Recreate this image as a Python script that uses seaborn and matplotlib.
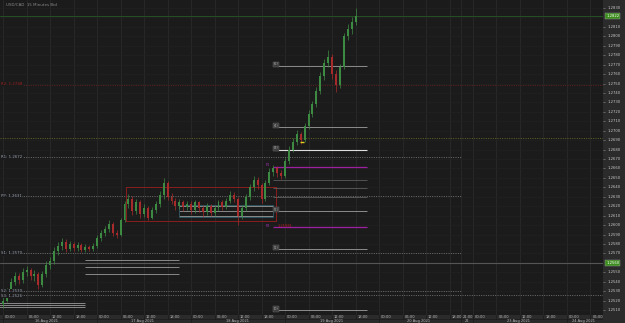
import numpy as np
import pandas as pd
import matplotlib
matplotlib.use("Agg")
import matplotlib.pyplot as plt
import seaborn as sns
from matplotlib.patches import Rectangle

# ---------------- data ----------------
TITLE = "USD/CAD  15 Minutes Bid"
bar_hour = list(range(-1, 91))          # hourly bar index since 16 Aug 2021 00:00
first_open = 1.2512
close = [1.2516, 1.2520, 1.2530, 1.2540, 1.2546, 1.2542, 1.2550, 1.2552, 1.2546, 1.2548,
         1.2536, 1.2548, 1.2558, 1.2562, 1.2572, 1.2578, 1.2582, 1.2575, 1.2580, 1.2576,
         1.2579, 1.2574, 1.2577, 1.2575, 1.2578, 1.2586, 1.2592, 1.2596, 1.2601, 1.2592,
         1.2590, 1.2605, 1.2622, 1.2628, 1.2615, 1.2624, 1.2612, 1.2618, 1.2608, 1.2616,
         1.2622, 1.2632, 1.2645, 1.2630, 1.2626, 1.2620, 1.2624, 1.2619, 1.2622, 1.2616,
         1.2624, 1.2618, 1.2614, 1.2620, 1.2613, 1.2618, 1.2624, 1.2619, 1.2626, 1.2632,
         1.2628, 1.2610, 1.2618, 1.2630, 1.2640, 1.2648, 1.2642, 1.2628, 1.2645, 1.2656,
         1.2660, 1.2655, 1.2652, 1.2668, 1.2680, 1.2688, 1.2697, 1.2690, 1.2705, 1.2718,
         1.2728, 1.2742, 1.2758, 1.2772, 1.2778, 1.2760, 1.2748, 1.2768, 1.2800, 1.2808,
         1.2815, 1.2822]
high = [1.2519, 1.2524, 1.2533, 1.2544, 1.2550, 1.2549, 1.2554, 1.2557, 1.2555, 1.2552,
        1.2550, 1.2551, 1.2562, 1.2566, 1.2577, 1.2582, 1.2586, 1.2585, 1.2583, 1.2582,
        1.2582, 1.2581, 1.2580, 1.2579, 1.2581, 1.2589, 1.2595, 1.2599, 1.2605, 1.2603,
        1.2595, 1.2608, 1.2626, 1.2633, 1.2631, 1.2628, 1.2627, 1.2622, 1.2620, 1.2619,
        1.2626, 1.2636, 1.2650, 1.2647, 1.2634, 1.2629, 1.2628, 1.2627, 1.2626, 1.2625,
        1.2627, 1.2626, 1.2621, 1.2623, 1.2622, 1.2621, 1.2627, 1.2627, 1.2629, 1.2636,
        1.2635, 1.2630, 1.2621, 1.2633, 1.2644, 1.2652, 1.2651, 1.2645, 1.2648, 1.2660,
        1.2664, 1.2663, 1.2658, 1.2671, 1.2684, 1.2692, 1.2701, 1.2699, 1.2708, 1.2722,
        1.2732, 1.2746, 1.2762, 1.2776, 1.2786, 1.2781, 1.2764, 1.2771, 1.2804, 1.2813,
        1.2820, 1.2830]
low = [1.2508, 1.2512, 1.2518, 1.2527, 1.2537, 1.2538, 1.2539, 1.2546, 1.2542, 1.2541,
       1.2532, 1.2534, 1.2545, 1.2553, 1.2559, 1.2568, 1.2574, 1.2571, 1.2572, 1.2573,
       1.2573, 1.2571, 1.2571, 1.2572, 1.2573, 1.2576, 1.2583, 1.2588, 1.2593, 1.2588,
       1.2586, 1.2588, 1.2603, 1.2618, 1.2611, 1.2612, 1.2608, 1.2609, 1.2605, 1.2606,
       1.2613, 1.2619, 1.2628, 1.2627, 1.2622, 1.2616, 1.2617, 1.2615, 1.2616, 1.2612,
       1.2613, 1.2614, 1.2609, 1.2611, 1.2610, 1.2610, 1.2615, 1.2616, 1.2617, 1.2623,
       1.2624, 1.2600, 1.2606, 1.2615, 1.2627, 1.2636, 1.2638, 1.2623, 1.2626, 1.2642,
       1.2652, 1.2651, 1.2649, 1.2650, 1.2665, 1.2677, 1.2685, 1.2686, 1.2688, 1.2702,
       1.2714, 1.2725, 1.2739, 1.2754, 1.2768, 1.2755, 1.2741, 1.2745, 1.2765, 1.2796,
       1.2802, 1.2812]

bid_price = 1.2822
line_price = 1.2560

# pivot levels (left labels), valid until Fri 21:00 (bar hour 117)
pivot_labels = ["R1: 1.2672", "PP: 1.2631", "S1: 1.2570", "S2: 1.2530"]
pivot_values = [1.2672, 1.2631, 1.2570, 1.2530]
pivot_end = 117
r2_label, r2_value = "R2: 1.2748", 1.2748
olive_value = 1.2692
s3_label, s3_value = "S3: 1.2526", 1.2526

# projection levels drawn from bar hour 69 to 93
proj_start, proj_end = 69, 93
proj_labels = ["(5)", "(4)", "(3)", "(2)", "(1)", "(0)"]
proj_values = [1.2769, 1.2704, 1.2680, 1.2615, 1.2575, 1.2510]
proj_thin = [1.2648, 1.2639, 1.2630]
p1_value, p2_value = 1.2662, 1.2598
p2_text = "1.25981"

# previous-day range lines
box_starts = [-1, 21, 45]
box_ends = [21, 45, 69]
box_levels = [[1.2517, 1.2515, 1.2513], [1.2563, 1.2556, 1.2548], [1.2620, 1.2615, 1.2610]]

# consolidation rectangle
rect_x0, rect_x1 = 31.4, 69.7
rect_lo, rect_hi = 1.2604, 1.2640
marker_h, marker_p = 76.3, 1.2688

# time axis
tick_pos = [0, 6, 12, 18, 24, 30, 36, 42, 48, 54, 60, 66, 72, 78, 84, 90, 96, 102, 108,
            114, 117, 120, 126, 132, 138, 144, 150]
tick_lab = ["00:00", "06:00", "12:00", "18:00"] * 4 + ["00:00", "06:00", "12:00", "18:00",
            "21:00", "00:00", "06:00", "12:00", "18:00", "00:00", "06:00"]
date_pos = [11.2, 35.7, 59.8, 84, 106, 118.5, 131.7, 148.3]
date_lab = ["16 Aug 2021", "17 Aug 2021", "18 Aug 2021", "19 Aug 2021", "20 Aug 2021",
            "22", "23 Aug 2021", "24 Aug 2021"]
date_sep = [0, 24, 48, 72, 96, 117, 120, 144]

XMIN, XMAX = -0.8, 153.2
YMIN, YMAX = 1.25047, 1.28385

# ---------------- style ----------------
bg = "#1b1b1b"
sns.set_theme(style="dark", rc={"axes.facecolor": bg, "figure.facecolor": bg,
                                "axes.edgecolor": bg, "grid.color": "#2c2c2c"})
plt.rcParams["font.family"] = ["DejaVu Sans"]

fig = plt.figure(figsize=(6.25, 3.23), dpi=100)
fig.patch.set_facecolor(bg)
ax = fig.add_axes([0, 8 / 323, 603 / 625, 315 / 323])
ax.set_facecolor(bg)
ax.set_xlim(XMIN, XMAX)
ax.set_ylim(YMIN, YMAX)
ax.set_xticks([])
ax.set_yticks([])
for s in ax.spines.values():
    s.set_visible(False)

# grid
for t in tick_pos:
    ax.axvline(t, color="#2a2a2a", lw=0.6, zorder=0)
for p in np.arange(1.2510, 1.2835, 0.001):
    ax.axhline(p, color="#212121", lw=0.5, zorder=0)

dot = (0, (1.2, 1.6))
# full-width lines
ax.axhline(bid_price, color="#244f24", lw=0.7, zorder=1)
ax.axhline(line_price, color="#555555", lw=0.8, zorder=1)
ax.axhline(olive_value, color="#6e6e2c", lw=0.6, ls=dot, zorder=1)
ax.axhline(r2_value, color="#6e1f1f", lw=0.6, ls=dot, zorder=1)
ax.axhline(s3_value, color="#7a7a7a", lw=0.6, ls=dot, zorder=1)
for v in pivot_values:
    ax.hlines(v, XMIN, pivot_end, color="#7a7a7a", lw=0.6, ls=dot, zorder=1)

lab_kw = dict(fontsize=2.8, va="center", ha="left", zorder=6,
              bbox=dict(boxstyle="square,pad=0.15", fc=bg, ec="none"))
ax.text(-0.6, r2_value + 0.00015, r2_label, color="#a02020", **lab_kw)
for lbl, v in zip(pivot_labels, pivot_values):
    ax.text(-0.6, v, lbl, color="#9aa0b0", **lab_kw)
ax.text(-0.6, s3_value - 0.0001, s3_label, color="#9aa0b0", **lab_kw)

# previous day range lines
for x0, x1, lv in zip(box_starts, box_ends, box_levels):
    for v in lv:
        ax.hlines(v, x0, x1, color="#9a9a9a", lw=0.6, zorder=2)

# consolidation rectangle and inner box
ax.add_patch(Rectangle((rect_x0, rect_lo), rect_x1 - rect_x0, rect_hi - rect_lo,
                       fill=False, ec="#8a1e1e", lw=0.7, zorder=2))
ax.add_patch(Rectangle((45, 1.2609), 24, 0.0012, fill=False, ec="#2f5a66", lw=0.6, zorder=2))

# projection levels
proj_kw = dict(fontsize=2.4, va="center", ha="left", color="#b0b0b0", zorder=6,
               bbox=dict(boxstyle="square,pad=0.2", fc="#3c3c3c", ec="#6a6a6a", lw=0.3))
for lbl, v in zip(proj_labels, proj_values):
    col, lw = ("#dedede", 0.8) if lbl == "(3)" else ("#8c8c8c", 0.7)
    ax.hlines(v, proj_start, proj_end, color=col, lw=lw, zorder=2)
    ax.text(proj_start, v + 0.00012, lbl, **proj_kw)
for v in proj_thin:
    ax.hlines(v, proj_start, proj_end, color="#6a6a6a", lw=0.5, zorder=2)
ax.hlines([p1_value, p2_value], proj_start, proj_end, color="#9b1fa0", lw=0.9, zorder=2)
ax.text(proj_start - 2, p1_value + 0.0002, "P1", color="#a030b0", fontsize=2.6,
        ha="left", va="center", zorder=6)
ax.text(proj_start - 2, p2_value + 0.0001, "P2", color="#a030b0", fontsize=2.6,
        ha="left", va="center", zorder=6)
ax.text(proj_start + 1, p2_value + 0.0001, p2_text, color="#b02020", fontsize=2.6,
        ha="left", va="center", zorder=6)

# candles
opens = [first_open] + close[:-1]
df = pd.DataFrame(dict(h=bar_hour, o=opens, c=close, hi=high, lo=low))
up = df["c"] >= df["o"]
cols = np.where(up, "#3d8a43", "#a82b2b")
ax.vlines(df["h"], df["lo"], df["hi"], colors=cols, lw=0.5, zorder=4)
body = (df["c"] - df["o"]).abs().clip(lower=0.00004)
ax.bar(df["h"], body, bottom=np.minimum(df["o"], df["c"]), width=0.5,
       color=cols, lw=0, zorder=5)

sns.scatterplot(x=[marker_h], y=[marker_p], marker="_", s=10, color="#e0d020",
                linewidth=1.0, ax=ax, zorder=7, legend=False)
ax.set_xlabel("")
ax.set_ylabel("")

ax.text(0.01, 0.983, TITLE, transform=ax.transAxes, fontsize=2.9, color="#8a8a8a",
        ha="left", va="center")

# price axis panel
pax = fig.add_axes([603 / 625, 8 / 323, 22 / 625, 315 / 323])
pax.set_facecolor("#2b2b2b")
pax.set_xlim(0, 1)
pax.set_ylim(YMIN, YMAX)
pax.set_xticks([])
pax.set_yticks([])
for s in pax.spines.values():
    s.set_visible(False)
for p in np.round(np.arange(1.2510, 1.2835, 0.001), 4):
    if abs(p - bid_price) < 0.0006 or abs(p - line_price) < 0.0006:
        continue
    pax.plot([0, 0.1], [p, p], color="#888888", lw=0.4)
    pax.text(0.2, p, f"{p:.4f}", fontsize=2.7, color="#c8c8c8", va="center", ha="left")
for p in (bid_price, line_price):
    pax.text(0.15, p, f"{p:.4f}", fontsize=2.7, color="#ffffff", va="center", ha="left",
             bbox=dict(boxstyle="square,pad=0.25", fc="#3c8d1e", ec="#9a9a9a", lw=0.3))

# time axis panel
tax = fig.add_axes([0, 0, 603 / 625, 8 / 323])
tax.set_facecolor("#2b2b2b")
tax.set_xlim(XMIN, XMAX)
tax.set_ylim(0, 1)
tax.set_xticks([])
tax.set_yticks([])
for s in tax.spines.values():
    s.set_visible(False)
tax.axhline(0.5, color="#1b1b1b", lw=0.5)
for t, l in zip(tick_pos, tick_lab):
    tax.plot([t, t], [0.5, 1], color="#1b1b1b", lw=0.5)
    tax.text(t + 0.5, 0.75, l, fontsize=2.6, color="#b8b8b8", va="center", ha="left")
for t in date_sep:
    tax.plot([t, t], [0, 0.5], color="#1b1b1b", lw=0.5)
for t, l in zip(date_pos, date_lab):
    tax.text(t, 0.25, l, fontsize=2.6, color="#b8b8b8", va="center", ha="center")

cax = fig.add_axes([603 / 625, 0, 22 / 625, 8 / 323])
cax.set_facecolor("#2b2b2b")
cax.set_xticks([])
cax.set_yticks([])
for s in cax.spines.values():
    s.set_visible(False)

fig.savefig("out.png", dpi=100, facecolor=bg)
